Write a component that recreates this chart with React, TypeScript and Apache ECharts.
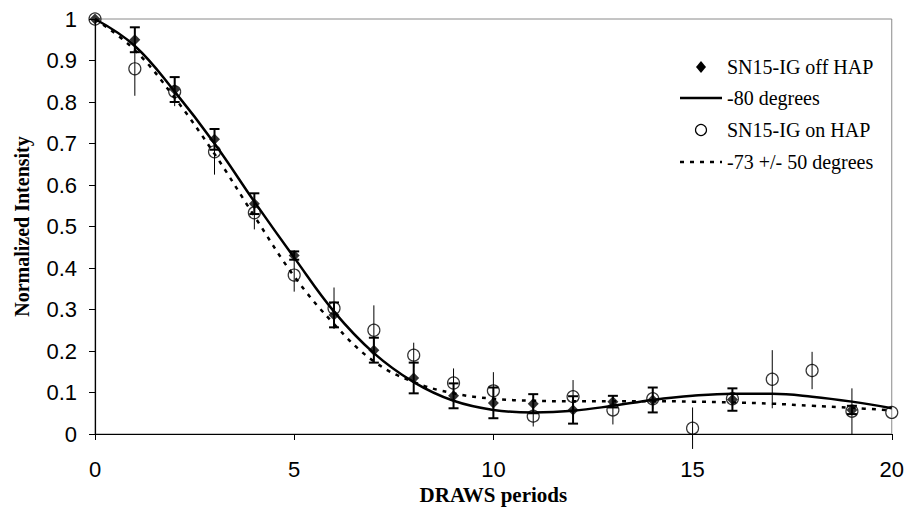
import React, { useEffect, useRef } from "react";
import * as echarts from "echarts";

const periods = [0, 1, 2, 3, 4, 5, 6, 7, 8, 9, 10, 11, 12, 13, 14, 15, 16, 17, 18, 19, 20];
const offHap = [1.0, 0.95, 0.83, 0.71, 0.555, 0.43, 0.287, 0.202, 0.135, 0.092, 0.075, 0.073, 0.058, 0.078, 0.082, null, 0.083, null, null, 0.058, null];
const offHapErr = [0, 0.03, 0.03, 0.025, 0.025, 0.01, 0.03, 0.03, 0.037, 0.03, 0.037, 0.023, 0.033, 0.014, 0.03, null, 0.027, null, null, 0.01, null];
const onHap = [1.0, 0.88, 0.825, 0.68, 0.533, 0.383, 0.303, 0.25, 0.19, 0.123, 0.104, 0.043, 0.09, 0.058, 0.085, 0.014, 0.085, 0.132, 0.153, 0.055, 0.052];
const onHapErr = [0, 0.065, 0.035, 0.055, 0.04, 0.04, 0.05, 0.06, 0.03, 0.035, 0.045, 0.025, 0.04, 0.035, 0.025, 0.05, 0.02, 0.07, 0.045, 0.055, 0];
const fit80 = [1.0, 0.935, 0.825, 0.7, 0.56, 0.425, 0.295, 0.195, 0.125, 0.08, 0.058, 0.052, 0.056, 0.068, 0.082, 0.092, 0.097, 0.097, 0.09, 0.078, 0.062];
const fit73 = [1.0, 0.925, 0.81, 0.675, 0.525, 0.38, 0.265, 0.175, 0.125, 0.098, 0.085, 0.08, 0.079, 0.079, 0.079, 0.078, 0.076, 0.073, 0.068, 0.063, 0.057];

const legendNames = ["SN15-IG off HAP", "-80 degrees", "SN15-IG on HAP", "-73 +/- 50 degrees"];

function pairs(ys: (number | null)[]) {
  const out: number[][] = [];
  periods.forEach((x, i) => {
    if (ys[i] !== null) out.push([x, ys[i] as number]);
  });
  return out;
}
function triples(ys: (number | null)[], es: (number | null)[]) {
  const out: number[][] = [];
  periods.forEach((x, i) => {
    if (ys[i] !== null && es[i] !== null && (es[i] as number) > 0) out.push([x, ys[i] as number, es[i] as number]);
  });
  return out;
}

function errorRenderer(caps: boolean, width: number) {
  return (params: any, api: any) => {
    const x = api.value(0);
    const y = api.value(1);
    const e = api.value(2);
    const lo = api.coord([x, y - e]);
    const hi = api.coord([x, y + e]);
    const style = { stroke: "#000", lineWidth: width };
    const children: any[] = [
      { type: "line", shape: { x1: lo[0], y1: lo[1], x2: hi[0], y2: hi[1] }, style },
    ];
    if (caps) {
      children.push({ type: "line", shape: { x1: lo[0] - 5, y1: lo[1], x2: lo[0] + 5, y2: lo[1] }, style });
      children.push({ type: "line", shape: { x1: hi[0] - 5, y1: hi[1], x2: hi[0] + 5, y2: hi[1] }, style });
    }
    return { type: "group", children };
  };
}

export default function App() {
  const ref = useRef<HTMLDivElement>(null);
  useEffect(() => {
    if (!ref.current) return;
    const chart = echarts.init(ref.current, null, { renderer: "svg" });
    const axisFont = { fontFamily: "Liberation Sans", fontSize: 22, color: "#000" };
    const nameFont = { fontFamily: "Liberation Serif", fontSize: 20, fontWeight: "bold" as const, color: "#000" };
    const legendFont = "20px 'Liberation Serif'";
    const rowY = [67, 98, 130, 162];
    const textX = 727;
    const symX = 701;
    const legendText = (i: number) => ({
      type: "text",
      style: { text: legendNames[i], x: textX, y: rowY[i], font: legendFont, fill: "#000", verticalAlign: "middle" },
    });
    chart.setOption({
      animation: false,
      backgroundColor: "#fff",
      grid: { left: 95, right: 15, top: 19, bottom: 87, show: true, borderColor: "#8a8a8a", borderWidth: 1 },
      graphic: [
        {
          type: "group",
          children: [
            {
              type: "polygon",
              shape: { points: [[symX, rowY[0] - 6], [symX + 5, rowY[0]], [symX, rowY[0] + 6], [symX - 5, rowY[0]]] },
              style: { fill: "#000" },
            },
            legendText(0),
            {
              type: "line",
              shape: { x1: 680, y1: rowY[1], x2: 722, y2: rowY[1] },
              style: { stroke: "#000", lineWidth: 2.5 },
            },
            legendText(1),
            {
              type: "circle",
              shape: { cx: symX, cy: rowY[2], r: 5.5 },
              style: { fill: "none", stroke: "#000", lineWidth: 1.2 },
            },
            legendText(2),
            {
              type: "line",
              shape: { x1: 680, y1: rowY[3], x2: 722, y2: rowY[3] },
              style: { stroke: "#000", lineWidth: 2.5, lineDash: [4, 6] },
            },
            legendText(3),
          ],
        },
      ],
      xAxis: {
        type: "value",
        min: 0,
        max: 20,
        interval: 5,
        name: "DRAWS periods",
        nameLocation: "middle",
        nameGap: 49,
        nameTextStyle: { ...nameFont, fontSize: 21 },
        axisLine: { show: true, lineStyle: { color: "#000", width: 1.2 } },
        axisTick: { show: true, length: 6, lineStyle: { color: "#000" } },
        axisLabel: { ...axisFont, margin: 24 },
        splitLine: { show: false },
      },
      yAxis: {
        type: "value",
        min: 0,
        max: 1,
        interval: 0.1,
        name: "Normalized Intensity",
        nameLocation: "middle",
        nameGap: 63,
        nameTextStyle: nameFont,
        axisLine: { show: true, lineStyle: { color: "#000", width: 1.2 } },
        axisTick: { show: true, length: 6, lineStyle: { color: "#000" } },
        axisLabel: { ...axisFont, margin: 18 },
        splitLine: { show: false },
      },
      series: [
        {
          type: "custom",
          name: "errOn",
          data: triples(onHap, onHapErr),
          encode: { x: 0, y: 1 },
          renderItem: errorRenderer(false, 1),
          z: 2,
        },
        {
          type: "custom",
          name: "errOff",
          data: triples(offHap, offHapErr),
          encode: { x: 0, y: 1 },
          renderItem: errorRenderer(true, 2),
          z: 2,
        },
        {
          type: "line",
          name: legendNames[1],
          data: pairs(fit80),
          smooth: 0.4,
          symbol: "none",
          lineStyle: { color: "#000", width: 2.5 },
          itemStyle: { color: "#000" },
          z: 3,
        },
        {
          type: "line",
          name: legendNames[3],
          data: pairs(fit73),
          smooth: 0.4,
          symbol: "none",
          lineStyle: { color: "#000", width: 2.5, type: [4, 6] },
          itemStyle: { color: "#000" },
          z: 3,
        },
        {
          type: "scatter",
          name: legendNames[2],
          data: pairs(onHap),
          symbol: "circle",
          symbolSize: 12,
          itemStyle: { color: "rgba(255,255,255,0)", borderColor: "#000", borderWidth: 1.2 },
          z: 4,
        },
        {
          type: "scatter",
          name: legendNames[0],
          data: pairs(offHap),
          symbol: "diamond",
          symbolSize: 11,
          itemStyle: { color: "#000" },
          z: 5,
        },
      ],
    });
    return () => chart.dispose();
  }, []);
  return <div ref={ref} style={{ width: 907, height: 521, position: "absolute", left: 0, top: 0 }} />;
}
